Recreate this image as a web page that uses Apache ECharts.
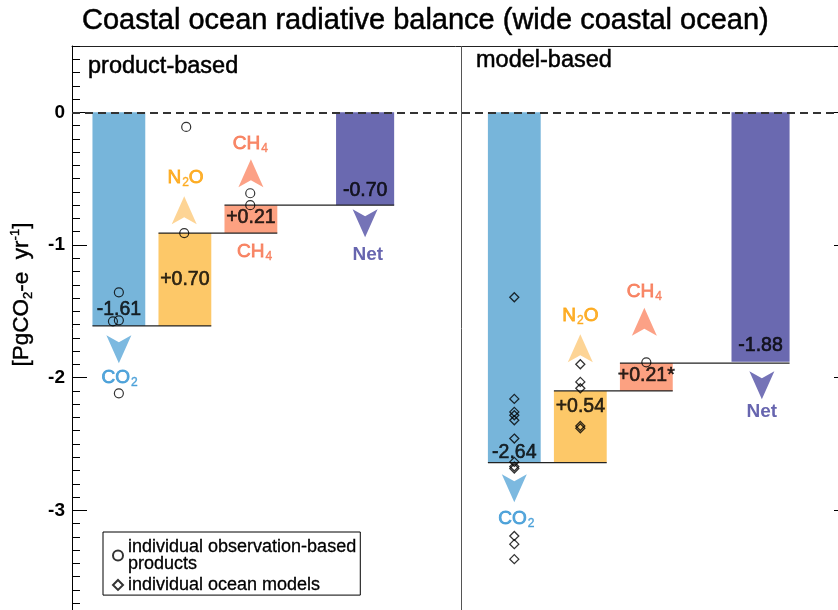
<!DOCTYPE html>
<html>
<head>
<meta charset="utf-8">
<script src="https://cdn.jsdelivr.net/npm/echarts@6/dist/echarts.min.js"></script>
<style>
html,body{margin:0;padding:0;background:#fff;}
#c{width:838px;height:610px;}
</style>
</head>
<body>
<div id="c"></div>
<script>
// ---------------- data ----------------
const groups = ['product-based', 'model-based'];
const components = ['CO2', 'N2O', 'CH4', 'Net'];
const productBased = [-1.61, 0.70, 0.21, -0.70];
const modelBased = [-2.64, 0.54, 0.21, -1.88];
const labelMarks = [['', '', '', ''], ['', '', '*', '']];
const yTickValues = [0, -1, -2, -3];

// individual observation-based products (circles): [x, value]
const obsPoints = [
  [0.71, -1.357], [0.62, -1.575], [0.71, -1.568], [0.71, -2.118],
  [1.73, -0.11], [1.70, -0.91],
  [2.70, -0.61], [2.70, -0.70],
  [8.70, -1.884]
];
// individual ocean models (diamonds): [x, value]
const modelPoints = [
  [6.70, -1.394], [6.70, -2.160], [6.70, -2.258], [6.70, -2.283], [6.70, -2.321],
  [6.70, -2.459], [6.70, -2.635], [6.70, -2.670], [6.70, -2.685],
  [6.70, -3.193], [6.70, -3.255], [6.70, -3.368],
  [7.70, -1.899], [7.70, -2.032], [7.70, -2.080], [7.70, -2.364], [7.70, -2.381]
];

// ---------------- layout / annotation positions (data units) ----------------
const slotX = [0.71, 1.71, 2.71, 4.44];
const groupOffset = [0, 5.99];
const barWidth = [0.8, 0.8, 0.8, 0.88];
const dividerX = 5.9;
const xMax = 11.77;
const valueLabelY = [[-1.485, -1.258, -0.791, -0.588], [-2.566, -2.219, -1.986, -1.76]];

const arrowComp = [0, 1, 2, 3, 0, 1, 2, 3];
const arrowX = [0.71, 1.70, 2.71, 4.44, 6.70, 7.70, 8.67, 10.45];
const arrowY = [-1.786, -0.739, -0.46, -0.836, -2.833, -1.778, -1.579, -2.057];
const arrowDown = [true, false, false, true, true, false, false, true];

const textComp = [0, 1, 2, 2, 3, 0, 1, 2, 3];
const textX = [0.72, 1.72, 2.70, 2.765, 4.48, 6.73, 7.70, 8.67, 10.45];
const textY = [-2.0, -0.49, -0.235, -1.05, -1.07, -3.06, -1.53, -1.354, -2.26];

// ---------------- styles ----------------
const FONT = '"Liberation Sans", Arial, Helvetica, sans-serif';
const barColors = ['#77b5da', '#fdc868', '#fca181', '#6a69b0'];
const arrowColors = ['#5ba8d8', '#fdc97a', '#fb8a68', '#5250a5'];
const textColors = ['#3293d3', '#fd9f00', '#f6704b', '#413f9b'];
const ARROW = 'path://M12.5,0 L25,28 L12.5,21 L0,28 Z';

// ---------------- derived marks ----------------
const groupValues = [productBased, modelBased];
const bars = [], connectors = [], valueLabels = [];
groupValues.forEach((vals, g) => {
  let cum = 0;
  const spans = [];
  vals.forEach((v, i) => {
    let y0, y1;
    if (i === vals.length - 1) { y0 = 0; y1 = v; }
    else { y0 = cum; y1 = cum + v; cum = y1; }
    const x = slotX[i] + groupOffset[g];
    spans.push({ x, y0, y1 });
    bars.push([x, y0, y1, i]);
    const txt = (v > 0 ? '+' : '') + v.toFixed(2) + labelMarks[g][i];
    valueLabels.push([x, valueLabelY[g][i], txt]);
  });
  for (let i = 0; i < vals.length - 1; i++) {
    const a = spans[i], b = spans[i + 1];
    connectors.push([a.x - barWidth[i] / 2, b.x + barWidth[i + 1] / 2, a.y1]);
  }
});

const arrowData = arrowX.map((x, k) => ({
  value: [x, arrowY[k]],
  symbolRotate: arrowDown[k] ? 180 : 0,
  itemStyle: { color: arrowColors[arrowComp[k]] }
}));
const textData = textX.map((x, k) => ({ value: [x, textY[k], components[textComp[k]]] }));

const richText = {
  CO2: '{c|CO}{cs|2}',
  N2O: '{n|N}{ns|2}{n|O}',
  CH4: '{h|CH}{hs|4}',
  Net: '{t|Net}'
};
function mainStyle(col, bold) {
  return { fontSize: 19, color: col, fontFamily: FONT, lineHeight: 22, fontWeight: bold ? 'bold' : 'normal',
           textBorderColor: col, textBorderWidth: bold ? 0 : 0.8 };
}
function subStyle(col) {
  return { fontSize: 12, color: col, fontFamily: FONT, lineHeight: 12, verticalAlign: 'bottom', padding: [0, 0, 0, 1],
           textBorderColor: col, textBorderWidth: 0.4 };
}

const chart = echarts.init(document.getElementById('c'));
const option = {
  animation: false,
  backgroundColor: '#fff',
  title: [
    { text: 'Coastal ocean radiative balance (wide coastal ocean)', left: 82, top: 6, padding: 0,
      textStyle: { fontSize: 29, fontWeight: 'normal', color: '#000', fontFamily: FONT, textBorderColor: '#000', textBorderWidth: 0.5 } },
    { text: groups[0], left: 88, top: 55, padding: 0,
      textStyle: { fontSize: 23.5, fontWeight: 'normal', color: '#000', fontFamily: FONT, textBorderColor: '#000', textBorderWidth: 0.5 } },
    { text: groups[1], left: 476, top: 49, padding: 0,
      textStyle: { fontSize: 23.5, fontWeight: 'normal', color: '#000', fontFamily: FONT, textBorderColor: '#000', textBorderWidth: 0.5 } }
  ],
  legend: {
    orient: 'vertical', left: 103, top: 532,
    padding: [6, 4, 1, 9], itemGap: 3, itemWidth: 10, itemHeight: 10, itemTextGap: 5,
    borderColor: '#000', borderWidth: 1, borderRadius: 0, backgroundColor: '#fff',
    textStyle: { fontSize: 18, lineHeight: 16.5, color: '#000', fontFamily: FONT, textBorderColor: '#000', textBorderWidth: 0.3 },
    data: ['individual observation-based\nproducts', 'individual ocean models'],
    selectedMode: false
  },
  grid: { left: 72, right: -11, top: 46, bottom: -33, containLabel: false, outerBoundsMode: 'none' },
  xAxis: {
    type: 'value', min: 0, max: xMax, position: 'top',
    axisLine: { show: true, onZero: false, lineStyle: { color: '#222', width: 1 } },
    axisTick: { show: false }, axisLabel: { show: false }, splitLine: { show: false }
  },
  yAxis: [
    {
      type: 'value', min: -4, max: 0.5, interval: 1, position: 'left',
      axisLine: { show: true, onZero: false, lineStyle: { color: '#000', width: 1 } },
      axisTick: { show: true, inside: true, length: 15, lineStyle: { color: '#000', width: 1 } },
      axisLabel: {
        show: true, margin: 7, showMaxLabel: false, showMinLabel: false,
        fontSize: 19, fontWeight: 'bold', color: '#000', fontFamily: FONT,
        formatter: v => (yTickValues.indexOf(v) >= 0 ? String(v) : '')
      },
      splitLine: { show: false },
      name: '[PgCO{s|2}-e  yr{p|-1}]',
      nameLocation: 'middle', nameGap: 37, nameRotate: 90,
      nameTextStyle: {
        fontSize: 22.5, color: '#000', fontFamily: FONT, lineHeight: 26, padding: [0, 0, 0, 100],
        textBorderColor: '#000', textBorderWidth: 0.4,
        rich: {
          s: { fontSize: 13, fontFamily: FONT, color: '#000', lineHeight: 13, verticalAlign: 'bottom' },
          p: { fontSize: 13, fontFamily: FONT, color: '#000', lineHeight: 13, verticalAlign: 'top' }
        }
      }
    },
    {
      type: 'value', min: -4, max: 0.5, interval: 0.1, position: 'left',
      axisLine: { show: false, onZero: false },
      axisTick: { show: true, inside: true, length: 8, lineStyle: { color: '#000', width: 1 } },
      axisLabel: { show: false }, splitLine: { show: false }
    },
    {
      type: 'value', min: -4, max: 0.5, interval: 1, position: 'right',
      axisLine: { show: true, onZero: false, lineStyle: { color: '#000', width: 1 } },
      axisTick: { show: true, inside: true, length: 15, lineStyle: { color: '#000', width: 1 } },
      axisLabel: { show: false }, splitLine: { show: false }
    }
  ],
  series: [
    {
      name: 'bars', type: 'custom', silent: true, z: 2,
      data: bars,
      renderItem: (params, api) => {
        const x = api.value(0), y0 = api.value(1), y1 = api.value(2), i = api.value(3);
        const w = barWidth[i];
        const p0 = api.coord([x - w / 2, y0]);
        const p1 = api.coord([x + w / 2, y1]);
        return {
          type: 'rect',
          shape: { x: p0[0], y: Math.min(p0[1], p1[1]), width: p1[0] - p0[0], height: Math.abs(p1[1] - p0[1]) },
          style: { fill: barColors[i] }
        };
      },
      markLine: {
        silent: true, symbol: ['none', 'none'], label: { show: false },
        data: [
          { yAxis: 0, lineStyle: { type: [8, 5], color: '#333', width: 2 } },
          { xAxis: dividerX, lineStyle: { type: 'solid', color: '#555', width: 1 } }
        ]
      }
    },
    {
      name: 'connectors', type: 'custom', silent: true, z: 3,
      data: connectors,
      renderItem: (params, api) => {
        const a = api.coord([api.value(0), api.value(2)]);
        const b = api.coord([api.value(1), api.value(2)]);
        return { type: 'line', shape: { x1: a[0], y1: a[1], x2: b[0], y2: b[1] }, style: { stroke: '#222', lineWidth: 1.2 } };
      }
    },
    {
      name: 'arrows', type: 'scatter', silent: true, z: 3,
      symbol: ARROW, symbolSize: [25, 28], symbolKeepAspect: false,
      data: arrowData
    },
    {
      name: 'annotations', type: 'scatter', silent: true, z: 4,
      symbolSize: 1, itemStyle: { color: 'rgba(0,0,0,0)' },
      data: textData,
      label: {
        show: true, position: 'inside',
        formatter: p => richText[p.data.value[2]],
        rich: {
          c: mainStyle(textColors[0]), cs: subStyle(textColors[0]),
          n: mainStyle(textColors[1]), ns: subStyle(textColors[1]),
          h: mainStyle(textColors[2]), hs: subStyle(textColors[2]),
          t: mainStyle(textColors[3], true)
        }
      }
    },
    {
      name: 'values', type: 'scatter', silent: true, z: 5,
      symbolSize: 1, itemStyle: { color: 'rgba(0,0,0,0)' },
      data: valueLabels,
      label: {
        show: true, position: 'inside',
        formatter: p => p.data[2],
        fontSize: 19.5, color: '#000', fontFamily: FONT, textBorderColor: '#000', textBorderWidth: 0.6
      }
    },
    {
      name: 'individual observation-based\nproducts', type: 'scatter', z: 6, silent: true,
      symbol: 'circle', symbolSize: 9,
      itemStyle: { color: 'rgba(255,255,255,0)', borderColor: '#000', borderWidth: 1.2 },
      data: obsPoints
    },
    {
      name: 'individual ocean models', type: 'scatter', z: 6, silent: true,
      symbol: 'diamond', symbolSize: 9,
      itemStyle: { color: 'rgba(255,255,255,0)', borderColor: '#000', borderWidth: 1.3 },
      data: modelPoints
    }
  ]
};
chart.setOption(option);
</script>
</body>
</html>
